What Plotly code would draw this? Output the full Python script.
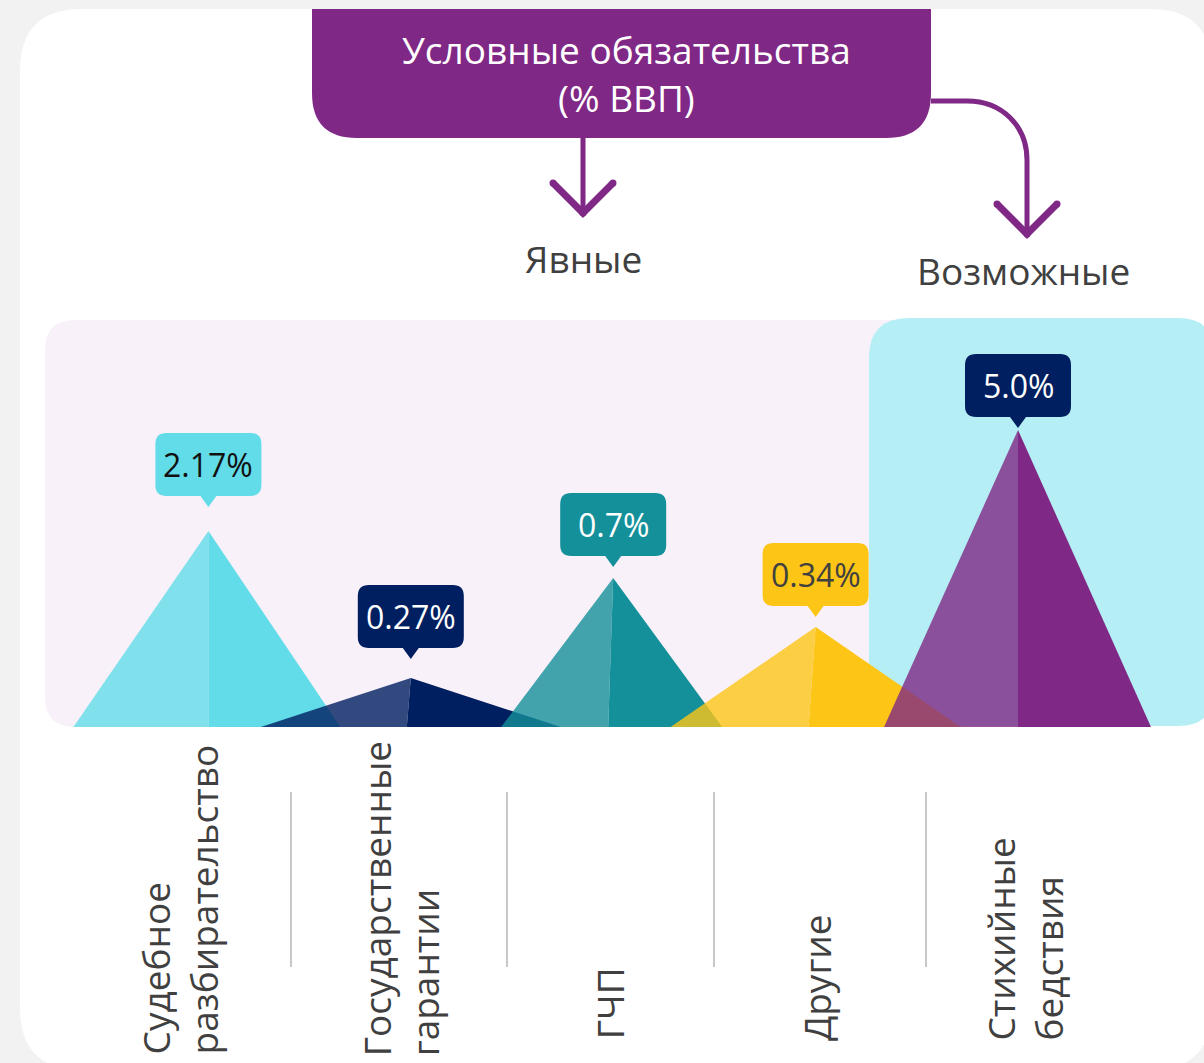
import plotly.graph_objects as go

# ---------------- data ----------------
categories = ["Судебное<br>разбирательство", "Государственные<br>гарантии", "ГЧП", "Другие",
              "Стихийные<br>бедствия"]
values = [2.17, 0.27, 0.7, 0.34, 5.0]            # % of GDP
value_labels = ["2.17%", "0.27%", "0.7%", "0.34%", "5.0%"]
drawn_heights = [196, 49, 149, 100, 297]          # pyramid heights as drawn in the picture
group_titles = ["Явные", "Возможные"]
header_title = "Условные обязательства<br>(% ВВП)"

# ---------------- styles ----------------
tri_colors = ["#62DCE8", "#001F60", "#14909A", "#FDC516", "#7F2885"]
box_colors = ["#62DCE8", "#001F60", "#14909A", "#FDC516", "#001F60"]
box_text = ["#111111", "#FFFFFF", "#FFFFFF", "#404040", "#FFFFFF"]
half_left = [135, 150, 112, 145, 134]    # px
half_right = [132, 150, 109, 145, 133]   # px
divider_off = [0, -4, -5, -7, 0]         # px
callout_gap = [24, 19, 11, 10, 2]        # px between peak and pointer tip
label_dx = [-29, -10, -4, 1, 6]          # px shift of the rotated labels
label_bottom = [1056, 1058, 1041, 1043, 1043]  # px anchor of the rotated labels
PURPLE = "#7F2885"
TEXT = "#404040"
FONT = "Open Sans"

W, H = 1204, 1063
X0, DX = 208.4, 202.4    # px of category 0 and px per category
BASE = 727               # px of the baseline


def X(px):
    return (px - X0) / DX


def Y(py):
    return BASE - py


def hexrgba(h, a):
    h = h.lstrip("#")
    return "rgba(%d,%d,%d,%.2f)" % (int(h[0:2], 16), int(h[2:4], 16), int(h[4:6], 16), a)


def P(px, py):
    return "%.5f,%.3f" % (X(px), Y(py))


def rrect(x0, y0, x1, y1, tl, tr, br, bl):
    s = "M %s L %s Q %s %s L %s Q %s %s L %s Q %s %s L %s Q %s %s Z" % (
        P(x0 + tl, y0), P(x1 - tr, y0), P(x1, y0), P(x1, y0 + tr),
        P(x1, y1 - br), P(x1, y1), P(x1 - br, y1),
        P(x0 + bl, y1), P(x0, y1), P(x0, y1 - bl),
        P(x0, y0 + tl), P(x0, y0), P(x0 + tl, y0))
    return s


fig = go.Figure()
shapes = []
annotations = []

# card and panels
shapes.append(dict(type="path", path=rrect(20, 9, 1212, 1070, 62, 62, 62, 62),
                   fillcolor="#FFFFFF", line=dict(width=0), layer="below"))
shapes.append(dict(type="path", path=rrect(45, 320, 960, 727, 30, 0, 0, 30),
                   fillcolor="#F9F1F9", line=dict(width=0), layer="below"))
shapes.append(dict(type="path", path=rrect(869, 318, 1214, 726, 40, 36, 36, 40),
                   fillcolor="#B5EEF5", line=dict(width=0), layer="below"))
# header box
shapes.append(dict(type="path", path=rrect(312, 9, 931, 138, 0, 0, 45, 45),
                   fillcolor=PURPLE, line=dict(width=0), layer="below"))
annotations.append(dict(x=X(626), y=Y(73), xref="x", yref="y", text=header_title, showarrow=False,
                        font=dict(family=FONT, size=37, color="#FFFFFF"), align="center"))

# arrows
LW = 5
shapes.append(dict(type="line", x0=X(583), y0=Y(138), x1=X(583), y1=Y(211),
                   line=dict(color=PURPLE, width=LW)))
shapes.append(dict(type="path",
                   path="M %s L %s L %s" % (P(553, 183), P(583, 213), P(613, 183)),
                   line=dict(color=PURPLE, width=7)))
shapes.append(dict(type="path",
                   path="M %s L %s C %s %s %s L %s" % (P(931, 101), P(967, 101), P(1002, 101),
                                                       P(1027, 126), P(1027, 160), P(1027, 231)),
                   line=dict(color=PURPLE, width=LW)))
shapes.append(dict(type="path",
                   path="M %s L %s L %s" % (P(997, 204), P(1027, 234), P(1057, 204)),
                   line=dict(color=PURPLE, width=7)))
for (cx, cy) in [(553, 183), (613, 183), (583, 213), (997, 204), (1057, 204), (1027, 234)]:
    shapes.append(dict(type="circle", x0=X(cx - 3.5), x1=X(cx + 3.5), y0=Y(cy - 3.5), y1=Y(cy + 3.5),
                       fillcolor=PURPLE, line=dict(width=0)))

annotations.append(dict(x=X(583), y=Y(258), xref="x", yref="y", text=group_titles[0], showarrow=False,
                        font=dict(family=FONT, size=37, color=TEXT)))
annotations.append(dict(x=X(1023), y=Y(270), xref="x", yref="y", text=group_titles[1], showarrow=False,
                        font=dict(family=FONT, size=37, color=TEXT)))

# pyramids
for i, h in enumerate(drawn_heights):
    xl = i - half_left[i] / DX
    xr = i + half_right[i] / DX
    xd = i + divider_off[i] / DX
    fig.add_trace(go.Scatter(x=[xl, i, xd, xl], y=[0, h, 0, 0], mode="lines", fill="toself",
                             fillcolor=hexrgba(tri_colors[i], 0.8), line=dict(width=0),
                             hoverinfo="skip", showlegend=False))
    fig.add_trace(go.Scatter(x=[xd, i, xr, xd], y=[0, h, 0, 0], mode="lines", fill="toself",
                             fillcolor=tri_colors[i], line=dict(width=0),
                             name=categories[i].replace("<br>", " "), text=[value_labels[i]] * 4,
                             hoverinfo="name+text", showlegend=False))

    # callout
    tip = h + callout_gap[i]
    bb = tip + 11
    bt = bb + 63
    hw = 53 / DX
    r = 11
    rx = r / DX
    path = ("M %f,%f L %f,%f Q %f,%f %f,%f L %f,%f Q %f,%f %f,%f L %f,%f L %f,%f L %f,%f "
            "L %f,%f Q %f,%f %f,%f L %f,%f Q %f,%f %f,%f Z") % (
        i - hw + rx, bt, i + hw - rx, bt, i + hw, bt, i + hw, bt - r,
        i + hw, bb + r, i + hw, bb, i + hw - rx, bb,
        i + 8 / DX, bb, i, tip, i - 8 / DX, bb,
        i - hw + rx, bb, i - hw, bb, i - hw, bb + r,
        i - hw, bt - r, i - hw, bt, i - hw + rx, bt)
    shapes.append(dict(type="path", path=path, fillcolor=box_colors[i], line=dict(width=0)))
    annotations.append(dict(x=i, y=(bb + bt) / 2, xref="x", yref="y", text=value_labels[i],
                            showarrow=False, font=dict(family=FONT, size=32, color=box_text[i])))

    # category labels
    annotations.append(dict(x=i, y=Y(label_bottom[i]), xref="x", yref="y", text=categories[i],
                            showarrow=False, textangle=-90, xanchor="center", yanchor="bottom",
                            align="left", xshift=label_dx[i],
                            font=dict(family=FONT, size=37, color=TEXT)))

# separators
for sx in [291, 507, 714, 926]:
    shapes.append(dict(type="line", x0=X(sx), x1=X(sx), y0=Y(792), y1=Y(967),
                       line=dict(color="#C8C8C8", width=2)))

fig.update_layout(
    width=W, height=H, margin=dict(l=0, r=0, t=0, b=0),
    paper_bgcolor="#F2F2F2", plot_bgcolor="rgba(0,0,0,0)",
    xaxis=dict(range=[X(0), X(W)], visible=False, fixedrange=True),
    yaxis=dict(range=[Y(H), Y(0)], visible=False, fixedrange=True),
    shapes=shapes, annotations=annotations, showlegend=False,
)

fig.write_html("out.html", config={"displayModeBar": False},
               post_script="document.body.style.margin='0';document.body.style.overflow='hidden';")
